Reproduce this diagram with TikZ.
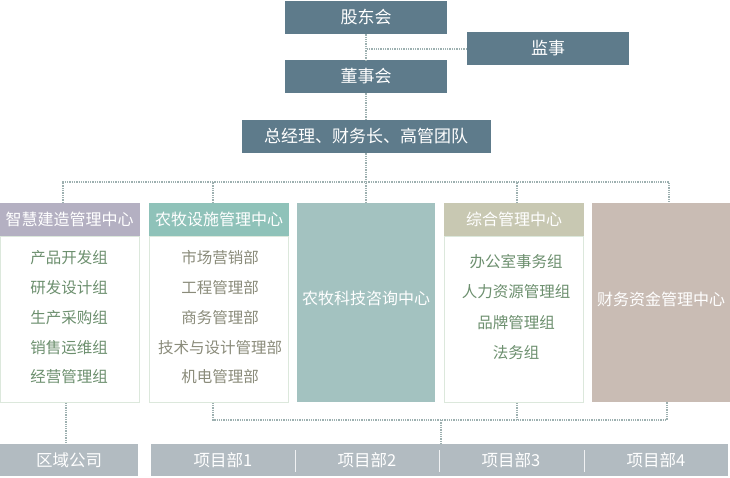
\documentclass[tikz,border=0pt]{standalone}
\usepackage{fontspec}
\setmainfont{Noto Sans CJK SC}
\definecolor{slate}{HTML}{5E7B8B}
\definecolor{lavender}{HTML}{B4B0C2}
\definecolor{tealhead}{HTML}{8FC2B9}
\definecolor{tealbox}{HTML}{A3C2C0}
\definecolor{khaki}{HTML}{C8C8B2}
\definecolor{taupe}{HTML}{C9BCB4}
\definecolor{steel}{HTML}{B2BBC1}
\definecolor{frame}{HTML}{DCE8DC}
\definecolor{linkgray}{HTML}{9DB0B0}
\definecolor{leaf}{HTML}{6C8F6E}
\definecolor{olive}{HTML}{8A8B7A}
\tikzset{
  topbox/.style={fill=slate, text=white, minimum width=162pt, minimum height=33pt, inner sep=0pt, font=\fontsize{17}{17}\selectfont},
  headbox/.style={text=white, minimum width=140pt, minimum height=33pt, inner sep=0pt, font=\fontsize{16}{16}\selectfont},
  bodybox/.style={draw=frame, line width=0.8pt, minimum width=139pt, minimum height=166pt, inner sep=0pt, anchor=north},
  fullbox/.style={text=white, minimum width=138pt, minimum height=199pt, inner sep=0pt, font=\fontsize{16}{16}\selectfont},
  item/.style={inner sep=0pt, font=\fontsize{15.5}{15.5}\selectfont},
  barbox/.style={fill=steel, text=white, minimum height=32pt, inner sep=0pt, font=\fontsize{16.5}{16.5}\selectfont},
  barlabel/.style={text=white, inner sep=0pt, font=\fontsize{16.5}{16.5}\selectfont},
  link/.style={draw=linkgray, line width=2pt, dash pattern=on 1.3pt off 1pt},
}
\begin{document}
\begin{tikzpicture}[x=1pt,y=-1pt]
\useasboundingbox (0,0) rectangle (730,477);

% top of the chart
\node[topbox] (gd) at (366,17.5) {股东会};
\node[topbox] (js) at (548,48.5) {监事};
\node[topbox] (dsh) at (366,76.5) {董事会};
\node[topbox, minimum width=249pt] (zjl) at (366,136.5) {总经理、财务长、高管团队};

% centres
\node[bodybox] (zhb) at (69.5,236) {};
\node[headbox, fill=lavender] (zhh) at (69.5,219.5) {智慧建造管理中心};
\node[bodybox] (nssb) at (219,236) {};
\node[headbox, fill=tealhead] (nssh) at (219,219.5) {农牧设施管理中心};
\node[fullbox, fill=tealbox] (nkj) at (366,302.5) {\raisebox{9pt}{农牧科技咨询中心}};
\node[bodybox] (zhglb) at (514,236) {};
\node[headbox, fill=khaki] (zhglh) at (514,219.5) {综合管理中心};
\node[fullbox, fill=taupe] (cw) at (661,302.5) {\raisebox{7pt}{财务资金管理中心}};

\node[item, text=leaf] (zh1) at (69,258) {产品开发组};
\node[item, text=leaf] (zh2) at (69,288) {研发设计组};
\node[item, text=leaf] (zh3) at (69,318) {生产采购组};
\node[item, text=leaf] (zh4) at (69,348) {销售运维组};
\node[item, text=leaf] (zh5) at (69,377) {经营管理组};

\node[item, text=olive] (nss1) at (220,258) {市场营销部};
\node[item, text=olive] (nss2) at (220,288) {工程管理部};
\node[item, text=olive] (nss3) at (220,318) {商务管理部};
\node[item, text=olive] (nss4) at (220,348) {技术与设计管理部};
\node[item, text=olive] (nss5) at (220,377) {机电管理部};

\node[item, text=leaf] (zhgl1) at (516,262) {办公室事务组};
\node[item, text=leaf] (zhgl2) at (516,292) {人力资源管理组};
\node[item, text=leaf] (zhgl3) at (516,323) {品牌管理组};
\node[item, text=leaf] (zhgl4) at (516,353) {法务组};

% bottom row
\node[barbox, minimum width=138pt] (qy) at (69,460) {区域公司};
\node[barbox, minimum width=577pt] (xm) at (439.5,460) {};
\node[barlabel] (xm1) at (223,460) {项目部1};
\node[barlabel] (xm2) at (367,460) {项目部2};
\node[barlabel] (xm3) at (511,460) {项目部3};
\node[barlabel] (xm4) at (656,460) {项目部4};
\draw[white!80!steel, line width=0.6pt] (295,450) -- (295,472);
\draw[white!80!steel, line width=0.6pt] (439,450) -- (439,472);
\draw[white!80!steel, line width=0.6pt] (584,450) -- (584,472);

% dotted links
\coordinate (bus) at (366,182);
\coordinate (lowbus) at (441,420);
\draw[link] (gd) -- (dsh);
\draw[link] (dsh) -- (zjl);
\draw[link] (js.west) -- (js.west -| gd.south);
\draw[link] (zjl) -- (nkj);
\draw[link] ([xshift=-7pt]zhh.north) |- (bus) -| ([xshift=8pt]cw.north);
\draw[link] ([xshift=-6pt]nssh.north) -- ([xshift=-6pt]nssh.north |- bus);
\draw[link] ([xshift=3pt]zhglh.north) -- ([xshift=3pt]zhglh.north |- bus);
\draw[link] ([xshift=-3.5pt]zhb.south) -- ([xshift=-3.5pt]zhb.south |- qy.north);
\draw[link] ([xshift=-6pt]nssb.south) |- (lowbus) -| ([xshift=6pt]cw.south);
\draw[link] ([xshift=3pt]zhglb.south) -- ([xshift=3pt]zhglb.south |- lowbus);
\draw[link] (lowbus) -- (lowbus |- xm.north);
\end{tikzpicture}
\end{document}
